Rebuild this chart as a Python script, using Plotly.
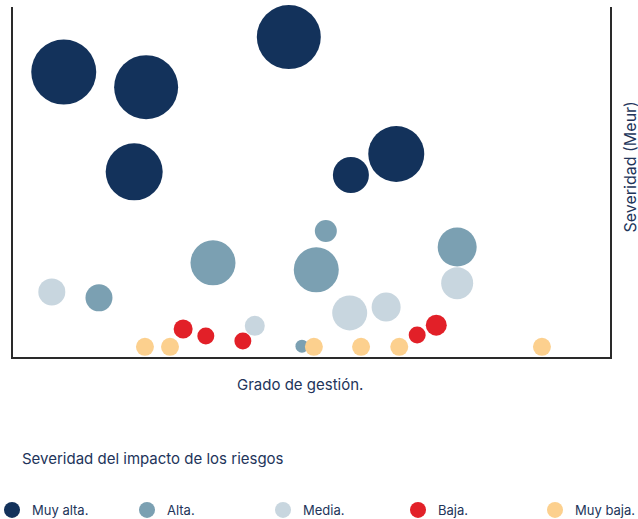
import plotly.graph_objects as go

# ---- data (Grado de gestión 0-100, Severidad 0-100, impacto) ----
categorias = ["Muy alta.", "Alta.", "Media.", "Baja.", "Muy baja."]

muy_alta_x = [8.5, 22.3, 20.3, 46.2, 56.6, 64.2]
muy_alta_y = [81.4, 77.1, 52.9, 91.4, 52.0, 58.0]
muy_alta_imp = [65, 64, 57, 64, 36, 56]

alta_x = [52.4, 33.5, 50.8, 74.4, 14.4, 48.4]
alta_y = [36.0, 26.9, 24.9, 31.4, 16.9, 3.1]
alta_imp = [22, 45, 45, 39, 27, 13]

media_x = [6.5, 40.5, 56.4, 62.5, 74.4]
media_y = [18.6, 8.9, 12.6, 14.3, 21.1]
media_imp = [27, 20, 35, 29, 32]

baja_x = [28.5, 32.3, 38.5, 67.7, 70.9]
baja_y = [8.0, 6.0, 4.6, 6.3, 9.1]
baja_imp = [19, 17, 17, 17, 21]

muy_baja_x = [22.1, 26.3, 50.4, 58.3, 64.7, 88.6]
muy_baja_y = [2.9, 2.9, 2.9, 2.9, 2.9, 2.9]
muy_baja_imp = [18, 18, 18, 18, 18, 18]

series = [
    (muy_alta_x, muy_alta_y, muy_alta_imp),
    (alta_x, alta_y, alta_imp),
    (media_x, media_y, media_imp),
    (baja_x, baja_y, baja_imp),
    (muy_baja_x, muy_baja_y, muy_baja_imp),
]

colores = ["#13325B", "#7BA0B2", "#C8D6DF", "#E22028", "#FCD08E"]
legend_px = [12, 147, 283, 418, 555]  # marker centre x of legend entries
W, H = 638, 519
PL, PR, PT, PB = 13, 610, 7, 357  # plot area in pixels
PW, PH = PR - PL, PB - PT
TXT = "#22345A"
FONT = "Inter"


def px_x(p):
    return (p - PL) / PW


def px_y(p):
    return (PB - p) / PH


fig = go.Figure()
for i, (name, (xs, ys, ss), col) in enumerate(zip(categorias, series, colores)):
    lg = "legend" if i == 0 else f"legend{i+1}"
    fig.add_trace(go.Scatter(
        x=xs, y=ys, mode="markers", name=name,
        marker=dict(size=ss, sizemode="diameter", sizeref=1, color=col,
                    opacity=1, line=dict(width=0)),
        legend=lg, hoverinfo="skip", cliponaxis=False,
    ))

layout_legends = {}
for i, p in enumerate(legend_px):
    key = "legend" if i == 0 else f"legend{i+1}"
    layout_legends[key] = dict(
        xref="paper", yref="paper",
        x=px_x(p - 20), y=px_y(510), xanchor="left", yanchor="middle",
        font=dict(family=FONT, size=13, color=TXT),
        bgcolor="rgba(0,0,0,0)", borderwidth=0, itemsizing="trace",
    )

fig.update_layout(
    width=W, height=H,
    margin=dict(l=PL, r=W - PR, t=PT, b=H - PB, autoexpand=False),
    plot_bgcolor="white", paper_bgcolor="white",
    showlegend=True,
    xaxis=dict(range=[0, 100], showgrid=False, zeroline=False, showticklabels=False,
               ticks="", showline=True, linecolor="#2a2a2a", linewidth=1.5, mirror=False),
    yaxis=dict(range=[0, 100], showgrid=False, zeroline=False, showticklabels=False,
               ticks="", showline=True, linecolor="#2a2a2a", linewidth=1.5, mirror=True),
    annotations=[
        dict(text="Grado de gestión.", xref="paper", yref="paper",
             x=px_x(299.5), y=px_y(384), showarrow=False,
             xanchor="center", yanchor="middle",
             font=dict(family=FONT, size=15, color=TXT)),
        dict(text="Severidad (Meur)", xref="paper", yref="paper",
             x=px_x(629.5), y=px_y(167), textangle=-90,
             showarrow=False, xanchor="center", yanchor="middle",
             font=dict(family=FONT, size=16, color=TXT)),
        dict(text="Severidad del impacto de los riesgos", xref="paper", yref="paper",
             x=px_x(20), y=px_y(458), showarrow=False,
             xanchor="left", yanchor="middle",
             font=dict(family=FONT, size=15, color=TXT)),
    ],
    **layout_legends,
)

fig.write_html("out.html", config={"displayModeBar": False},
               post_script="document.body.style.margin='0';")
